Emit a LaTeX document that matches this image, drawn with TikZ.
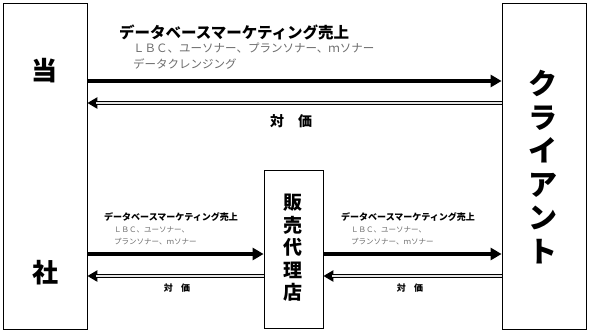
\documentclass[tikz,border=0pt]{standalone}
\usepackage{fontspec}
\newfontfamily\jp{Noto Sans CJK JP}
\usetikzlibrary{arrows.meta}
\begin{document}
\begin{tikzpicture}[x=1pt,y=-1pt,
  box/.style={draw,line width=0.8pt,inner sep=0},
  fwd/.style={line width=3.6pt,-{Triangle[length=11pt,width=12pt]}},
  back/.style={line width=3.4pt,{Triangle[length=10pt,width=11pt]}-},
  backin/.style={line width=1.1pt,draw=gray!20,shorten <=9pt},
  head/.style={font={\jp\bfseries\fontsize{15.5}{17}\selectfont},anchor=west,inner sep=0},
  sub/.style={font={\jp\fontsize{11.5}{13}\selectfont},text=gray!85!black,anchor=west,inner sep=0},
  heads/.style={font={\jp\bfseries\fontsize{9}{10}\selectfont},anchor=west,inner sep=0},
  subs/.style={font={\jp\fontsize{7.5}{9}\selectfont},text=gray!85!black,anchor=west,inner sep=0},
  big/.style={font={\jp\bfseries\fontsize{26}{30}\selectfont},inner sep=0},
]
\useasboundingbox (0,0) rectangle (589,332);
\fill[white] (0,0) rectangle (589,332);
% boxes
\node[box,minimum width=84pt,minimum height=326pt] (L) at (45,166) {};
\node[box,minimum width=84pt,minimum height=326pt] (R) at (544,166) {};
\node[box,minimum width=59pt,minimum height=158pt] (M) at (293.5,249) {};
% box labels
\node[big] (t1) at (44,71) {当};
\node[big] (t2) at (45,273) {社};
\node[font={\jp\bfseries\fontsize{29}{33.5}\selectfont},inner sep=0,align=center] (cl) at (543,167) {ク\\ラ\\イ\\ア\\ン\\ト};
\node[font={\jp\bfseries\fontsize{19}{22.5}\selectfont},inner sep=0,align=center] (ag) at (293,248) {販\\売\\代\\理\\店};
% top arrows
\coordinate (a1s) at (L.east |- 0,81);
\coordinate (a1e) at (R.west |- 0,81);
\draw[fwd] (a1s) -- (a1e);
\coordinate (b1s) at (R.west |- 0,103);
\coordinate (b1e) at (L.east |- 0,103);
\draw[back] (b1e) -- (b1s);
\draw[backin] (b1e) -- (b1s);
\node[head] (h1) at (119,32) {データベースマーケティング売上};
\node[sub] (s1a) at (133,48) {ＬＢＣ、ユーソナー、プランソナー、ｍソナー};
\node[sub] (s1b) at (133,64) {データクレンジング};
\node[font={\jp\bfseries\fontsize{14}{16}\selectfont},inner sep=0] (p1) at (291,121) {対\hspace{1em}価};
% bottom left arrows
\coordinate (a2s) at (L.east |- 0,254);
\coordinate (a2e) at (M.west |- 0,254);
\draw[fwd] (a2s) -- (a2e);
\coordinate (b2s) at (M.west |- 0,276);
\coordinate (b2e) at (L.east |- 0,276);
\draw[back] (b2e) -- (b2s);
\draw[backin] (b2e) -- (b2s);
\node[heads] (h2) at (104,217) {データベースマーケティング売上};
\node[subs] (s2a) at (114,229.5) {ＬＢＣ、ユーソナー、};
\node[subs] (s2b) at (114,242) {プランソナー、ｍソナー};
\node[font={\jp\bfseries\fontsize{9}{10}\selectfont},inner sep=0] (p2) at (177,288) {対\hspace{0.9em}価};
% bottom right arrows
\coordinate (a3s) at (M.east |- 0,254);
\coordinate (a3e) at (R.west |- 0,254);
\draw[fwd] (a3s) -- (a3e);
\coordinate (b3s) at (R.west |- 0,276);
\coordinate (b3e) at (M.east |- 0,276);
\draw[back] (b3e) -- (b3s);
\draw[backin] (b3e) -- (b3s);
\node[heads] (h3) at (341,217) {データベースマーケティング売上};
\node[subs] (s3a) at (351,229.5) {ＬＢＣ、ユーソナー、};
\node[subs] (s3b) at (351,242) {プランソナー、ｍソナー};
\node[font={\jp\bfseries\fontsize{9}{10}\selectfont},inner sep=0] (p3) at (410,288) {対\hspace{0.9em}価};
\end{tikzpicture}
\end{document}
